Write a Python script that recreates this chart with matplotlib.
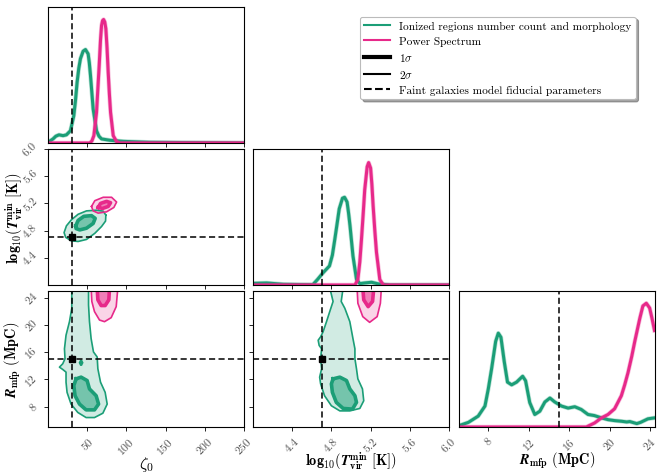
import matplotlib
matplotlib.use("Agg")
import matplotlib.pyplot as plt
from matplotlib.lines import Line2D

plt.rcParams['font.family'] = 'cmr10'
plt.rcParams['mathtext.fontset'] = 'cm'
plt.rcParams['axes.unicode_minus'] = False
plt.rcParams['axes.linewidth'] = 0.8

GREEN = '#1b9e77'
PINK = '#e7298a'

# fiducial parameters
fid_zeta, fid_T, fid_R = 30.0, 4.7, 15.0

# axis ranges / ticks
zeta_lim = (0, 250)
T_lim = (4.0, 6.0)
R_lim_x = (5.1, 24.5)
R_lim_y = (5.0, 25.0)
zeta_ticks = [50, 100, 150, 200, 250]
T_ticks = [4.4, 4.8, 5.2, 5.6, 6.0]
R_ticks = [8, 12, 16, 20, 24]

# ---- 1D marginals (relative density) ----
zeta_g_x = [0, 6.4, 10, 14, 19.2, 23.5, 28.6, 32.9, 35.0, 37.1, 39.3, 41.4, 44.8, 47.8, 51.2, 52.7, 54.2, 57.6, 61.9, 65.0, 68.3, 79, 96, 129, 250]
zeta_g_y = [0.005, 0.03, 0.05, 0.06, 0.054, 0.06, 0.09, 0.2, 0.31, 0.445, 0.55, 0.62, 0.675, 0.687, 0.655, 0.59, 0.496, 0.25, 0.09, 0.05, 0.03, 0.02, 0.012, 0.005, 0.0]
zeta_p_x = [0, 53.3, 56.0, 58.5, 61.9, 63.6, 65.3, 67.0, 68.3, 69.6, 70.9, 72.4, 73.8, 75.3, 76.8, 78.3, 79.8, 83.2, 87.5, 91.7, 250]
zeta_p_y = [0, 0, 0.015, 0.054, 0.225, 0.40, 0.57, 0.76, 0.864, 0.90, 0.908, 0.89, 0.84, 0.70, 0.52, 0.36, 0.225, 0.054, 0.01, 0, 0]

T_g_x = [4.0, 4.14, 4.31, 4.61, 4.66, 4.715, 4.78, 4.81, 4.835, 4.86, 4.88, 4.913, 4.934, 4.96, 4.975, 4.99, 5.02, 5.056, 5.09, 5.14, 5.21, 5.28, 5.4, 6.0]
T_g_y = [0.012, 0.015, 0.005, 0.002, 0.042, 0.09, 0.14, 0.22, 0.337, 0.46, 0.56, 0.638, 0.645, 0.61, 0.53, 0.435, 0.214, 0.042, 0.01, 0.015, 0.02, 0.008, 0, 0]
T_p_x = [4.0, 5.04, 5.07, 5.09, 5.107, 5.125, 5.14, 5.165, 5.18, 5.2, 5.213, 5.226, 5.243, 5.26, 5.294, 5.33, 6.0]
T_p_y = [0, 0, 0.04, 0.17, 0.337, 0.53, 0.70, 0.87, 0.90, 0.86, 0.74, 0.58, 0.40, 0.24, 0.04, 0, 0]

R_g_x = [5.1, 6.03, 7.0, 7.67, 8.0, 8.33, 8.73, 8.99, 9.25, 9.58, 9.9, 10.31, 10.8, 11.4, 11.69, 12.1, 12.6, 13.1, 13.6, 14.1, 14.58, 15.24, 15.9, 16.56, 17.2, 17.87, 18.5, 19.2, 19.85, 20.5, 21.2, 21.7, 22.0, 22.7, 23.1, 23.8, 24.45]
R_g_y = [0.01, 0.034, 0.08, 0.154, 0.28, 0.43, 0.63, 0.69, 0.66, 0.48, 0.33, 0.31, 0.33, 0.373, 0.34, 0.18, 0.092, 0.116, 0.184, 0.213, 0.184, 0.154, 0.139, 0.149, 0.129, 0.092, 0.084, 0.067, 0.054, 0.047, 0.042, 0.037, 0.04, 0.025, 0.035, 0.06, 0.067]
R_p_x = [5.1, 17.7, 18.53, 19.2, 19.85, 20.5, 21.17, 21.5, 21.83, 22.2, 22.5, 23.0, 23.3, 23.64, 23.97, 24.2, 24.45]
R_p_y = [0, 0, 0.03, 0.067, 0.092, 0.134, 0.23, 0.31, 0.40, 0.52, 0.63, 0.80, 0.89, 0.91, 0.875, 0.80, 0.71]

# ---- 2D credible regions (zeta vs logT) ----
zT_g2_x = [73.8, 70.4, 61.9, 49.1, 38.4, 29.9, 23.5, 20.5, 22.6, 29.9, 38.4, 49.1, 59.7, 68.3, 73.4]
zT_g2_y = [5.027, 5.086, 5.10, 5.09, 5.04, 4.96, 4.87, 4.77, 4.70, 4.65, 4.64, 4.67, 4.76, 4.86, 4.94]
zT_g1_x = [35.4, 38.4, 45.7, 55.5, 60.2, 57.6, 49.1, 40.5, 35.8]
zT_g1_y = [4.87, 4.95, 5.01, 5.02, 4.98, 4.905, 4.835, 4.81, 4.83]
zT_p2_x = [55.5, 59.7, 70.4, 81.1, 87.5, 84.0, 74.7, 64.0, 57.6]
zT_p2_y = [5.155, 5.24, 5.29, 5.29, 5.22, 5.14, 5.076, 5.057, 5.09]
zT_p1_x = [64.0, 67.0, 74.7, 79.8, 76.8, 69.6]
zT_p1_y = [5.14, 5.20, 5.23, 5.21, 5.155, 5.126]

# ---- zeta vs R_mfp ----
zR_g2_x = [30.3, 30.3, 27.4, 23.0, 21.0, 21.7, 18.8, 14.6, 18.8, 23.0, 23.0, 24.3, 29.4, 38.0, 48.6, 59.3, 70.0, 75.5, 72.9, 67.0, 63.6, 62.7, 58.0, 55.0, 52.9, 51.7, 51.7]
zR_g2_y = [25.5, 22.46, 20.5, 18.5, 16.5, 15.04, 14.3, 13.8, 13.46, 13.07, 11.59, 10.1, 8.37, 7.14, 6.39, 6.39, 7.03, 8.37, 10.1, 11.59, 13.56, 15.3, 16.04, 18.0, 20.5, 22.96, 25.5]
zR_gdot_x = [40.5, 42.2, 43.9, 42.2]
zR_gdot_y = [14.45, 14.85, 14.45, 14.05]
zR_g1_x = [35.8, 42.2, 49.9, 52.9, 61.4, 64.5, 59.3, 48.6, 40.2, 34.5, 32.9]
zR_g1_y = [12.08, 12.33, 11.83, 10.6, 9.6, 8.37, 7.52, 7.52, 8.37, 9.6, 11.08]
zR_p2_x = [55.0, 55.9, 59.3, 65.7, 72.1, 80.6, 87.0, 89.1]
zR_p2_y = [25.5, 23.46, 21.97, 20.73, 20.49, 21.08, 22.7, 25.5]
zR_p1_x = [62.7, 63.6, 67.8, 72.9, 77.6, 78.5]
zR_p1_y = [25.5, 23.7, 22.86, 22.86, 23.7, 25.5]

# ---- logT vs R_mfp ----
TR_g2_x = [4.783, 4.817, 4.783, 4.75, 4.715, 4.69, 4.665, 4.675, 4.70, 4.69, 4.70, 4.68, 4.69, 4.73, 4.80, 4.886, 4.988, 5.09, 5.13, 5.117, 5.07, 5.056, 5.04, 5.04, 5.02, 4.988, 4.937, 4.90, 4.92]
TR_g2_y = [25.5, 23.46, 21.97, 20.49, 19.0, 18.26, 17.76, 17.0, 16.5, 15.04, 13.56, 12.33, 11.34, 9.6, 8.12, 7.37, 7.37, 7.73, 8.86, 10.6, 12.08, 13.56, 15.04, 16.5, 18.0, 20.49, 22.46, 23.46, 25.5]
TR_g1_x = [4.817, 4.886, 4.954, 4.988, 5.04, 5.056, 5.015, 4.92, 4.85, 4.81, 4.80]
TR_g1_y = [12.08, 12.33, 11.83, 10.6, 9.6, 8.62, 7.63, 7.73, 8.62, 10.1, 11.34]
TR_p2_x = [5.062, 5.07, 5.12, 5.19, 5.267, 5.30, 5.31]
TR_p2_y = [25.5, 23.2, 21.23, 20.39, 21.23, 23.2, 25.5]
TR_p1_x = [5.12, 5.13, 5.175, 5.22, 5.233]
TR_p1_y = [25.5, 23.7, 22.7, 23.46, 25.5]

legend_labels = ['Ionized regions number count and morphology', 'Power Spectrum',
                 r'$1\sigma$', r'$2\sigma$', 'Faint galaxies model fiducial parameters']

fig = plt.figure(figsize=(6.64, 4.77), dpi=100)
W, H = 196 / 664, 136 / 477
lefts = [48 / 664, 253 / 664, 459 / 664]
bottoms = [1 - 144 / 477, 1 - 286 / 477, 1 - 428 / 477]

def mk(r, c):
    return fig.add_axes([lefts[c], bottoms[r], W, H])

DASH = (0, (4, 2.2))
TICKFS = 8.5
LABFS = 10.3

def style(ax):
    ax.tick_params(direction='out', length=3, width=0.7, labelsize=TICKFS, colors='#222')

def fmt(t):
    return ('%d' % t) if isinstance(t, int) else ('%.1f' % t)

def set_xt(ax, ticks, show):
    ax.set_xticks(ticks)
    if show:
        ax.set_xticklabels([fmt(t) for t in ticks], rotation=45, color='#555')
    else:
        ax.set_xticklabels([])

def set_yt(ax, ticks, show):
    ax.set_yticks(ticks)
    if show:
        ax.set_yticklabels([fmt(t) for t in ticks], rotation=45, color='#555', va='center')
    else:
        ax.set_yticklabels([])

def region(ax, xs, ys, color, sigma):
    if sigma == 2:
        ax.fill(xs, ys, color=color, alpha=0.2, lw=0)
        ax.plot(list(xs) + [xs[0]], list(ys) + [ys[0]], color=color, lw=1.2, solid_joinstyle='round')
    else:
        ax.fill(xs, ys, color=color, alpha=0.5, lw=0)
        ax.plot(list(xs) + [xs[0]], list(ys) + [ys[0]], color=color, lw=2.6, solid_joinstyle='round')

def curve(ax, xs, ys, color):
    ax.plot(xs, ys, color=color, lw=3.2, alpha=0.3, solid_joinstyle='round')
    ax.plot(xs, ys, color=color, lw=2.2, solid_joinstyle='round')

# row 1: zeta marginal
a11 = mk(0, 0); style(a11)
curve(a11, zeta_g_x, zeta_g_y, GREEN)
curve(a11, zeta_p_x, zeta_p_y, PINK)
a11.axvline(fid_zeta, color='k', ls=DASH, lw=1.1)
a11.set_xlim(zeta_lim); a11.set_ylim(0, 1.0)
set_xt(a11, zeta_ticks, False); a11.set_yticks([])

# row 2
a21 = mk(1, 0); style(a21)
region(a21, zT_g2_x, zT_g2_y, GREEN, 2)
region(a21, zT_g1_x, zT_g1_y, GREEN, 1)
region(a21, zT_p2_x, zT_p2_y, PINK, 2)
region(a21, zT_p1_x, zT_p1_y, PINK, 1)
a21.axvline(fid_zeta, color='k', ls=DASH, lw=1.1)
a21.axhline(fid_T, color='k', ls=DASH, lw=1.1)
a21.plot([fid_zeta], [fid_T], 's', color='k', ms=5)
a21.set_xlim(zeta_lim); a21.set_ylim(T_lim)
set_xt(a21, zeta_ticks, False); set_yt(a21, T_ticks, True)

a22 = mk(1, 1); style(a22)
curve(a22, T_g_x, T_g_y, GREEN)
curve(a22, T_p_x, T_p_y, PINK)
a22.axvline(fid_T, color='k', ls=DASH, lw=1.1)
a22.set_xlim(T_lim); a22.set_ylim(0, 1.0)
set_xt(a22, T_ticks, False); a22.set_yticks([])

# row 3
a31 = mk(2, 0); style(a31)
region(a31, zR_g2_x, zR_g2_y, GREEN, 2)
a31.fill(zR_gdot_x, zR_gdot_y, color=GREEN, lw=1.5, edgecolor=GREEN)
region(a31, zR_g1_x, zR_g1_y, GREEN, 1)
region(a31, zR_p2_x, zR_p2_y, PINK, 2)
region(a31, zR_p1_x, zR_p1_y, PINK, 1)
a31.axvline(fid_zeta, color='k', ls=DASH, lw=1.1)
a31.axhline(fid_R, color='k', ls=DASH, lw=1.1)
a31.plot([fid_zeta], [fid_R], 's', color='k', ms=5)
a31.set_xlim(zeta_lim); a31.set_ylim(R_lim_y)
set_xt(a31, zeta_ticks, True); set_yt(a31, R_ticks, True)

a32 = mk(2, 1); style(a32)
region(a32, TR_g2_x, TR_g2_y, GREEN, 2)
region(a32, TR_g1_x, TR_g1_y, GREEN, 1)
region(a32, TR_p2_x, TR_p2_y, PINK, 2)
region(a32, TR_p1_x, TR_p1_y, PINK, 1)
a32.axvline(fid_T, color='k', ls=DASH, lw=1.1)
a32.axhline(fid_R, color='k', ls=DASH, lw=1.1)
a32.plot([fid_T], [fid_R], 's', color='k', ms=5)
a32.set_xlim(T_lim); a32.set_ylim(R_lim_y)
set_xt(a32, T_ticks, True); set_yt(a32, R_ticks, False)

a33 = mk(2, 2); style(a33)
curve(a33, R_g_x, R_g_y, GREEN)
curve(a33, R_p_x, R_p_y, PINK)
a33.axvline(fid_R, color='k', ls=DASH, lw=1.1)
a33.set_xlim(R_lim_x); a33.set_ylim(0, 1.0)
set_xt(a33, R_ticks, True); a33.set_yticks([])

lab_zeta_b = r'$\boldsymbol{\zeta_0}$'
lab_T_b = r'$\mathbf{log_{10}(}\boldsymbol{T}_{\mathbf{vir}}^{\mathbf{min}}\ \mathbf{[K])}$'
lab_R_b = r'$\boldsymbol{R}_{\mathbf{mfp}}\ \mathbf{(MpC)}$'
lab_zeta_s = r'$\zeta_0$'
lab_T_s = r'$\mathbf{log_{10}(T_{vir}^{min}\ [K])}$'
lab_R_s = r'$\mathbf{R_{mfp}\ (MpC)}$'

def set_labels(lz, lt, lr):
    a31.set_xlabel(lz, fontsize=12)
    a32.set_xlabel(lt, fontsize=LABFS)
    a33.set_xlabel(lr, fontsize=LABFS)
    a21.set_ylabel(lt, fontsize=LABFS)
    a31.set_ylabel(lr, fontsize=LABFS)

set_labels(lab_zeta_b, lab_T_b, lab_R_b)
try:
    fig.canvas.draw()
except Exception:
    set_labels(lab_zeta_s, lab_T_s, lab_R_s)

a31.xaxis.set_label_coords(0.5, -0.2)
a32.xaxis.set_label_coords(0.5, -0.17)
a33.xaxis.set_label_coords(0.5, -0.17)
a21.yaxis.set_label_coords(-0.11, 0.5)
a31.yaxis.set_label_coords(-0.125, 0.5)

handles = [Line2D([], [], color=GREEN, lw=1.5),
           Line2D([], [], color=PINK, lw=1.5),
           Line2D([], [], color='k', lw=3.0),
           Line2D([], [], color='k', lw=1.5),
           Line2D([], [], color='k', lw=1.5, ls='--')]
leg = fig.legend(handles, legend_labels, loc='upper right', bbox_to_anchor=(0.966, 0.975),
                 fontsize=8.2, frameon=True, fancybox=True, shadow=True, borderpad=0.35,
                 handlelength=2.3, labelspacing=0.45)
leg.get_frame().set_edgecolor('#bbbbbb')
leg.get_frame().set_linewidth(0.8)

fig.savefig('out.png', dpi=100)
